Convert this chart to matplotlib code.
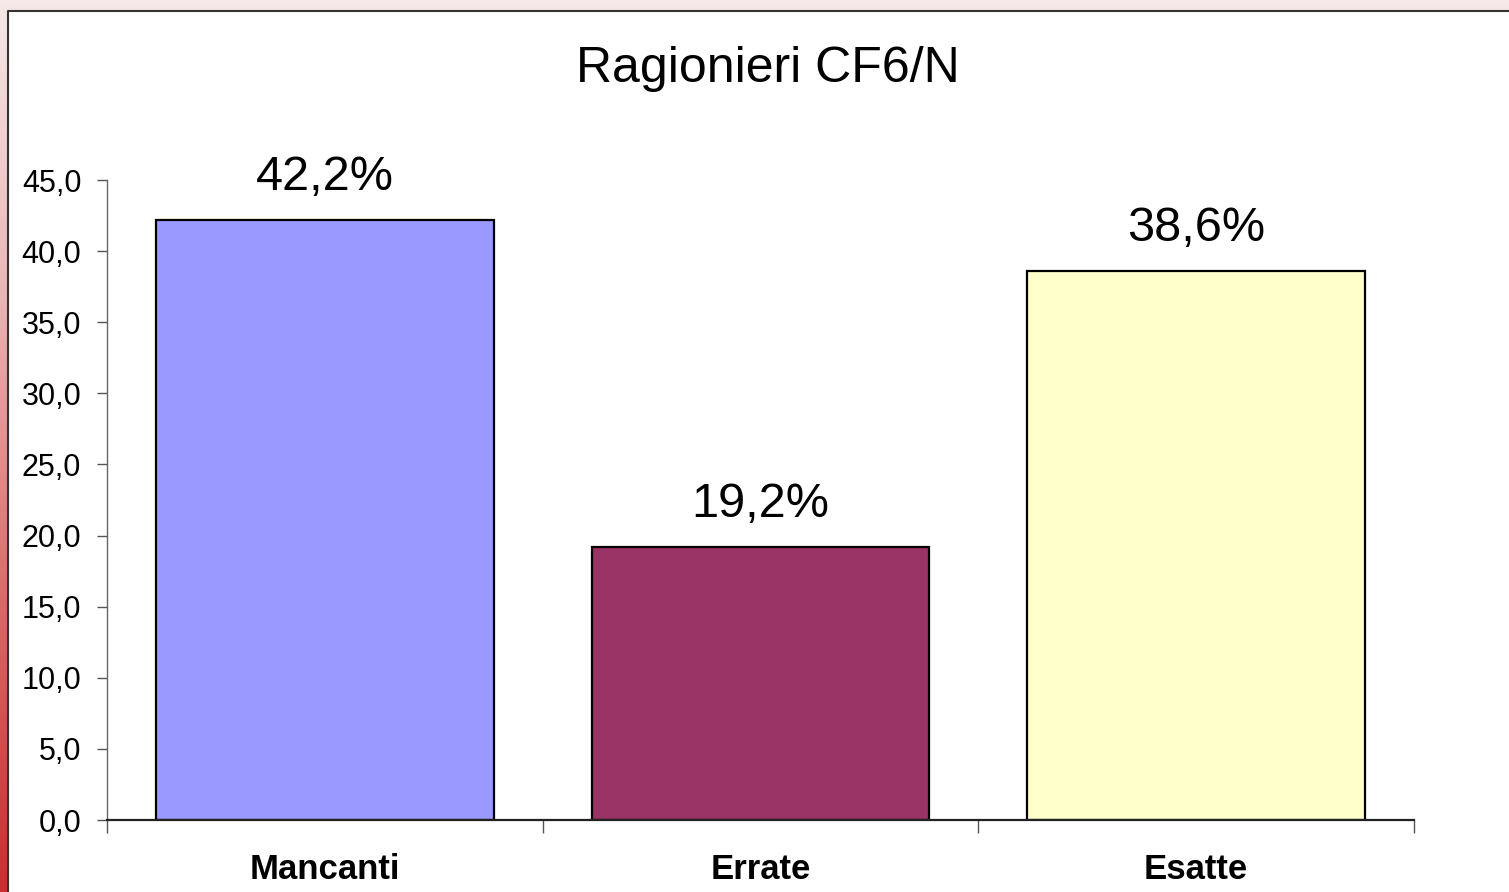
import numpy as np
import matplotlib.pyplot as plt
from matplotlib.patches import Rectangle
from matplotlib.colors import LinearSegmentedColormap

# Data
categories = ["Mancanti", "Errate", "Esatte"]
values = [42.2, 19.2, 38.6]
bar_colors = ["#9999FF", "#993366", "#FFFFCC"]
yticks = [0, 5, 10, 15, 20, 25, 30, 35, 40, 45]

plt.rcParams['font.family'] = ['Liberation Sans', 'DejaVu Sans']

fig = plt.figure(figsize=(15.09, 8.92), dpi=100)
W, H = 1509, 892

# background: pink-to-red vertical gradient, white panel on top
bg = fig.add_axes([0, 0, 1, 1])
bg.set_axis_off()
cmap = LinearSegmentedColormap.from_list(
    "bg", ["#F6E8E8", "#EBB4B4", "#DC6A6A", "#CF2C2C"])
grad = np.linspace(0, 1, 256).reshape(-1, 1)
bg.imshow(grad, cmap=cmap, aspect='auto', extent=[0, W, H, 0])
bg.set_xlim(0, W)
bg.set_ylim(H, 0)
bg.add_patch(Rectangle((8, 11), W, H, facecolor='white', edgecolor='none'))
bg.plot([8, 8, W], [H, 11, 11], color='#333333', lw=1.5)

ax = fig.add_axes([107 / W, 1 - 820 / H, (1414 - 107) / W, (820 - 180) / H])
ax.patch.set_alpha(0)

x = np.arange(len(categories))
bars = ax.bar(x, values, width=0.775, color=bar_colors,
              edgecolor='black', linewidth=1.6, zorder=3)

for xi, v in zip(x, values):
    ax.annotate(f"{v:.1f}%".replace('.', ','), (xi, v),
                xytext=(0, 21.5), textcoords='offset points',
                ha='center', va='baseline', fontsize=35)

ax.set_xlim(-0.5, 2.5)
ax.set_ylim(0, 45)
ax.set_yticks(yticks)
ax.set_yticklabels([f"{t:.1f}".replace('.', ',') for t in yticks], fontsize=22)

ax.set_xticks([-0.5, 0.5, 1.5, 2.5])
ax.set_xticklabels([])
ax.set_xticks(x, minor=True)
ax.set_xticklabels(categories, minor=True, fontsize=25, fontweight='bold')
ax.tick_params(axis='x', which='minor', length=0, pad=24)
ax.tick_params(axis='x', which='major', length=9, direction='out',
               color='#555555', width=1)
ax.tick_params(axis='y', length=7.5, direction='out', color='#555555',
               width=1, pad=11)

for s in ['top', 'right']:
    ax.spines[s].set_visible(False)
ax.spines['left'].set_color('#666666')
ax.spines['left'].set_linewidth(1)
ax.spines['bottom'].set_color('#222222')
ax.spines['bottom'].set_linewidth(1.6)
ax.spines['bottom'].set_zorder(4)

fig.text(768 / W, 1 - 82 / H, "Ragionieri CF6/N", ha='center', va='baseline',
         fontsize=36)

fig.savefig("out.png", dpi=100)
